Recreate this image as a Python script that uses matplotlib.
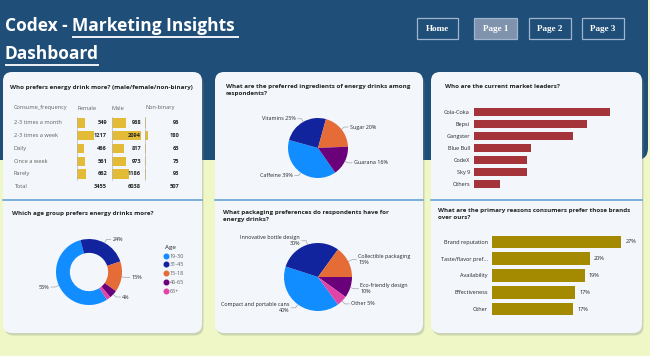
import matplotlib
matplotlib.use("Agg")
import matplotlib.pyplot as plt
from matplotlib.patches import FancyBboxPatch, Rectangle
from matplotlib.lines import Line2D
from matplotlib.transforms import blended_transform_factory
import numpy as np

plt.rcParams['font.family'] = ['Open Sans', 'DejaVu Sans']

# ---------------- data ----------------
freq_labels = ["2-3 times a month", "2-3 times a week", "Daily", "Once a week", "Rarely"]
female = [549, 1217, 466, 561, 662]
male = [968, 2094, 817, 973, 1186]
nonbinary = [96, 180, 63, 75, 93]
table_cols = ["Female", "Male", "Non-binary"]

ingredients = ["Caffeine", "Vitamins", "Sugar", "Guarana"]
ingredient_pct = [39, 25, 20, 16]

leaders = ["Cola-Coka", "Bepsi", "Gangster", "Blue Bull", "CodeX", "Sky 9", "Others"]
leader_counts = [2538, 2112, 1854, 1058, 980, 980, 478]

age_groups = ["19-30", "31-45", "15-18", "46-65", "65+"]
age_pct = [55, 24, 15, 4, 2]

packaging = ["Compact and portable cans", "Innovative bottle design",
             "Collectible packaging", "Eco-friendly design", "Other"]
packaging_pct = [40, 30, 15, 10, 5]

reasons = ["Brand reputation", "Taste/flavor pref...", "Availability", "Effectiveness", "Other"]
reason_pct = [27.0, 20.4, 19.4, 17.4, 17.0]

nav_buttons = ["Home", "Page 1", "Page 2", "Page 3"]

# ---------------- style ----------------
W, H = 650, 356
HEADER = "#1f4e78"
BG = "#eff7c6"
CARD = "#f3f7fc"
DIVIDER = "#5b9bd5"
LIGHTBLUE, DARKBLUE, ORANGE, PURPLE, PINK = "#118dff", "#12239e", "#e66c37", "#6b007b", "#e044a7"
GOLD = "#e3bb37"
RED = "#a4343a"
OLIVE = "#a38a00"
TXT = "#252423"
GRAY = "#605e5c"
TITLE_FS = 4.5
SMALL_FS = 4.0
TABLE_FS = 4.1
PIE_FS = 3.9

fig = plt.figure(figsize=(6.5, 3.56), dpi=100)
fig.patch.set_facecolor(BG)

bg = fig.add_axes([0, 0, 1, 1])
bg.set_xlim(0, W)
bg.set_ylim(H, 0)
bg.axis('off')


def px_axes(x0, y0, x1, y1):
    ax = fig.add_axes([x0 / W, 1 - y1 / H, (x1 - x0) / W, (y1 - y0) / H])
    ax.set_facecolor('none')
    return ax


# header band
bg.add_patch(FancyBboxPatch((-30, -30), 678, 190, boxstyle="round,pad=0,rounding_size=12",
                            fc=HEADER, ec='none', zorder=1))

# title with underlines
r = fig.canvas.get_renderer()
t1 = bg.text(5, 26, "Codex - ", color='white', fontsize=12.5, fontweight='bold',
             va='center', ha='left', zorder=5, family=['Open Sans'])
fig.canvas.draw()
bb = t1.get_window_extent(r).transformed(bg.transData.inverted())
x_after = max(bb.x0, bb.x1)
t2 = bg.text(x_after, 26, "Marketing Insights ", color='white', fontsize=12.5, fontweight='bold',
             va='center', ha='left', zorder=5, family=['Open Sans'])
t3 = bg.text(5, 54, "Dashboard", color='white', fontsize=12.5, fontweight='bold',
             va='center', ha='left', zorder=5, family=['Open Sans'])
fig.canvas.draw()
for t, yl in [(t2, 36.5), (t3, 64.5)]:
    b = t.get_window_extent(r).transformed(bg.transData.inverted())
    bg.plot([b.x0, b.x1], [yl, yl], color='white', lw=1.3, zorder=5, solid_capstyle='butt')

# nav buttons
btn_x = [417, 474, 529, 582]
btn_w = [41, 43, 42, 42]
for name, bx, bw in zip(nav_buttons, btn_x, btn_w):
    fc = "#7f93ad" if name == "Page 1" else HEADER
    bg.add_patch(Rectangle((bx, 18), bw, 21, fc=fc, ec="#9fb4cf", lw=0.9, zorder=4))
    bg.text(bx + bw / 2, 28.7, name, color='white', fontsize=6.6, fontweight='bold',
            family=['Liberation Serif'], ha='center', va='center', zorder=5)

# cards
cards = [(3, 202), (215, 423), (431, 642)]
for x0, x1 in cards:
    bg.add_patch(FancyBboxPatch((x0 + 1.5, 74.5), x1 - x0, 261, boxstyle="round,pad=0,rounding_size=9",
                                fc="#8c948c", ec='none', alpha=0.35, zorder=2))
    bg.add_patch(FancyBboxPatch((x0, 72), x1 - x0, 261, boxstyle="round,pad=0,rounding_size=9",
                                fc=CARD, ec='none', zorder=3))
    bg.plot([x0, x1], [200, 200], color=DIVIDER, lw=1.1, zorder=4)

# titles
bg.text(10, 87, "Who prefers energy drink more? (male/female/non-binary)", fontsize=TITLE_FS,
        fontweight='bold', color=TXT, va='center', zorder=5)
bg.text(226, 84, "What are the preferred ingredients of energy drinks among\nrespondents?",
        fontsize=TITLE_FS, fontweight='bold', color=TXT, va='top', linespacing=1.4, zorder=5)
bg.text(445, 87, "Who are the current market leaders?", fontsize=TITLE_FS,
        fontweight='bold', color=TXT, va='center', zorder=5)
bg.text(12, 213, "Which age group prefers energy drinks more?", fontsize=TITLE_FS,
        fontweight='bold', color=TXT, va='center', zorder=5)
bg.text(223, 210, "What packaging preferences do respondents have for\nenergy drinks?",
        fontsize=TITLE_FS, fontweight='bold', color=TXT, va='top', linespacing=1.4, zorder=5)
bg.text(438, 208, "What are the primary reasons consumers prefer those brands\nover ours?",
        fontsize=TITLE_FS, fontweight='bold', color=TXT, va='top', linespacing=1.4, zorder=5)

# ---------------- table ----------------
scale = 30 / 2100.0
col_left = [77, 112, 145]
col_right = [107, 141, 179]
series = [female, male, nonbinary]
row_top, row_h = 116.6, 12.75
nrows = len(freq_labels) + 1
bg.text(14, 108, "Consume_frequency", fontsize=TABLE_FS, color=GRAY, va='center', zorder=5)
col_axes = []
for cname, xl, xr, vals in zip(table_cols, col_left, col_right, series):
    bg.text(xl, 108, cname, fontsize=TABLE_FS, color=GRAY, va='center', zorder=5)
    ax = px_axes(xl, row_top, xr, row_top + nrows * row_h)
    ax.set_xlim(0, (xr - xl) / scale)
    ax.set_ylim(nrows - 0.5, -0.5)
    ax.barh(range(len(vals)), vals, height=0.72, color=GOLD)
    for i, v in enumerate(vals):
        ax.text((xr - xl) / scale, i, f"{v}", ha='right', va='center', fontsize=TABLE_FS,
                fontweight='bold', color=TXT)
    ax.text((xr - xl) / scale, len(vals), f"{sum(vals)}", ha='right', va='center',
            fontsize=TABLE_FS, fontweight='bold', color=TXT)
    for s in ['top', 'right', 'bottom']:
        ax.spines[s].set_visible(False)
    ax.spines['left'].set_color('#b8b8b8')
    ax.spines['left'].set_linewidth(0.5)
    ax.spines['left'].set_bounds(-0.5, len(vals) - 0.5)
    ax.set_xticks([])
    ax.set_yticks([])
    col_axes.append(ax)
tr = blended_transform_factory(bg.transData, col_axes[0].transData)
for i, lab in enumerate(freq_labels + ["Total"]):
    col_axes[0].text(14, i, lab, transform=tr, fontsize=TABLE_FS, color=GRAY, va='center')


# ---------------- pies ----------------
def pie_labels(ax, wedges, names, pcts, min_pct=0, wrap=12):
    for w, n, p in zip(wedges, names, pcts):
        if p < min_pct:
            continue
        ang = np.deg2rad((w.theta1 + w.theta2) / 2)
        x, y = np.cos(ang), np.sin(ang)
        side = 1 if x >= 0 else -1
        x2, y2 = 1.12 * x, 1.12 * y
        x3 = x2 + side * 0.13
        ax.plot([1.0 * x, x2, x3], [1.0 * y, y2, y2], color='#9a9a9a', lw=0.45, clip_on=False)
        if n is None:
            lab = f"{p}%"
        elif len(n) > wrap:
            lab = f"{n}\n{p}%"
        else:
            lab = f"{n} {p}%"
        ax.text(x3 + side * 0.05, y2, lab, ha='left' if side > 0 else 'right', va='center',
                multialignment='left' if side > 0 else 'right',
                fontsize=PIE_FS, color=TXT, linespacing=1.3, clip_on=False)


def pie_axes(cx, cy, rad):
    ax = px_axes(cx - rad, cy - rad, cx + rad, cy + rad)
    ax.set_xlim(-1, 1)
    ax.set_ylim(-1, 1)
    ax.set_aspect('equal')
    ax.axis('off')
    return ax


ax = pie_axes(318, 148, 30)
wd, _ = ax.pie(ingredient_pct, colors=[LIGHTBLUE, DARKBLUE, ORANGE, PURPLE], startangle=-55,
               counterclock=False, radius=1)
ax.set_xlim(-1, 1); ax.set_ylim(-1, 1)
pie_labels(ax, wd, ingredients, ingredient_pct)

ax = pie_axes(89, 272, 33)
wd, _ = ax.pie(age_pct, colors=[LIGHTBLUE, DARKBLUE, ORANGE, PURPLE, PINK], startangle=-57,
               counterclock=False, radius=1, wedgeprops=dict(width=0.42))
ax.set_xlim(-1, 1); ax.set_ylim(-1, 1)
pie_labels(ax, wd, [None] * len(age_pct), age_pct, min_pct=3)
handles = [Line2D([], [], marker='o', ls='none', markersize=3.3, color=c)
           for c in [LIGHTBLUE, DARKBLUE, ORANGE, PURPLE, PINK]]
leg = fig.legend(handles, age_groups, title="Age", loc='upper left',
                 bbox_to_anchor=(162 / W, 1 - 242 / H), frameon=False, fontsize=SMALL_FS,
                 title_fontsize=SMALL_FS + 0.5, handlelength=0.6, handletextpad=0.3,
                 labelspacing=0.68, borderpad=0, alignment='left')
for t in leg.get_texts():
    t.set_color(GRAY)
leg.get_title().set_color(TXT)

ax = pie_axes(318, 277, 34)
wd, _ = ax.pie(packaging_pct, colors=[LIGHTBLUE, DARKBLUE, ORANGE, PURPLE, PINK], startangle=-54,
               counterclock=False, radius=1)
ax.set_xlim(-1, 1); ax.set_ylim(-1, 1)
pie_labels(ax, wd, packaging, packaging_pct)

# ---------------- bar charts ----------------
ax = px_axes(474, 106, 634, 190)
ax.barh(range(len(leaders)), leader_counts, height=0.72, color=RED)
ax.set_xlim(0, max(leader_counts) * 160 / 136)
ax.set_ylim(len(leaders) - 0.5, -0.5)
ax.set_yticks(range(len(leaders)))
ax.set_yticklabels(leaders, fontsize=SMALL_FS, color=TXT)
ax.tick_params(length=0, pad=3)
ax.set_xticks([])
for s in ax.spines.values():
    s.set_visible(False)

ax = px_axes(492, 233.5, 632, 317.5)
bars = ax.barh(range(len(reasons)), reason_pct, height=0.75, color=OLIVE)
ax.set_xlim(0, 140 / 4.78)
ax.set_ylim(len(reasons) - 0.5, -0.5)
ax.set_yticks(range(len(reasons)))
ax.set_yticklabels(reasons, fontsize=SMALL_FS, color=TXT)
ax.bar_label(bars, labels=[f"{round(v)}%" for v in reason_pct], padding=3, fontsize=SMALL_FS, color=TXT)
ax.tick_params(length=0, pad=3)
ax.set_xticks([])
for s in ax.spines.values():
    s.set_visible(False)

fig.savefig("out.png", dpi=100, facecolor=BG)
